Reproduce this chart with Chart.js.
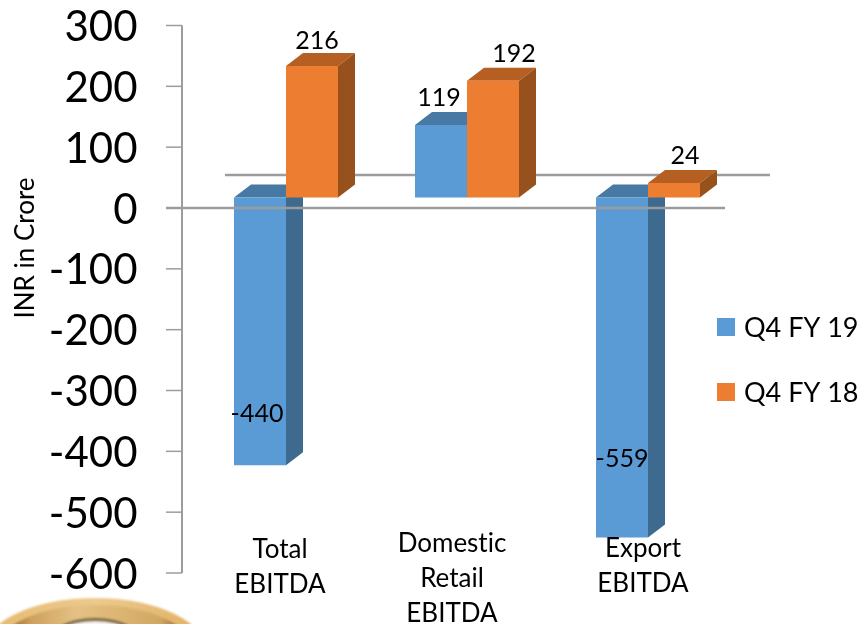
<!DOCTYPE html>
<html>
<head>
  <meta charset="utf-8">
  <title>EBITDA</title>
  <style>
    body { margin: 0; background: #fff; }
    canvas { display: block; }
  </style>
  <script src="https://cdn.jsdelivr.net/npm/chart.js"></script>
</head>
<body>
  <canvas id="chartCanvas" width="861" height="624"></canvas>

  <script>
    // Chart data
    var categories = [['Total', 'EBITDA'], ['Domestic', 'Retail', 'EBITDA'], ['Export', 'EBITDA']];
    var q4fy19 = [-440, 119, -559];
    var q4fy18 = [216, 192, 24];
    var yTitle = 'INR in Crore';

    var FONT = 'Lato, Carlito, sans-serif';
    var GREY = '#9c9c9c';

    // Depth of the extruded bars, in pixels
    var DEPTH_X = 17, DEPTH_Y = 13;

    // Side and top shades per dataset
    var shades = [
      { top: '#4878a4', side: '#3e6a8f' },
      { top: '#b55f23', side: '#97511d' }
    ];

    // Value label nudges relative to the bar centre / bar end
    var labelShift = [
      [{ x: -3, y: -51 }, { x: -2, y: 27 }, { x: 0, y: -79 }],
      [{ x: 5, y: 25 }, { x: 21, y: 27 }, { x: 11, y: 27 }]
    ];
    var categoryShift = [-6, -15, -5];
    var categoryTop = [550, 544, 549];

    function poly(ctx, pts, color) {
      ctx.fillStyle = color;
      ctx.beginPath();
      ctx.moveTo(pts[0][0], pts[0][1]);
      for (var i = 1; i < pts.length; i++) ctx.lineTo(pts[i][0], pts[i][1]);
      ctx.closePath();
      ctx.fill();
    }

    function hline(ctx, x1, x2, y, w) {
      ctx.strokeStyle = GREY;
      ctx.lineWidth = w;
      ctx.beginPath();
      ctx.moveTo(x1, y);
      ctx.lineTo(x2, y);
      ctx.stroke();
    }

    // Gold ring peeking in at the bottom left corner
    function drawRing(ctx) {
      ctx.save();
      ctx.beginPath();
      ctx.rect(0, 590, 210, 34);
      ctx.clip();
      ctx.filter = 'blur(1px)';

      var rim = ctx.createLinearGradient(0, 0, 190, 0);
      rim.addColorStop(0, '#e6bc72');
      rim.addColorStop(0.5, '#ecca8e');
      rim.addColorStop(1, '#e2b468');
      ctx.fillStyle = rim;
      ctx.beginPath();
      ctx.ellipse(95, 652, 112, 54, 0, 0, Math.PI * 2);
      ctx.fill();

      var band = ctx.createLinearGradient(0, 0, 190, 0);
      band.addColorStop(0.06, '#9c6f35');
      band.addColorStop(0.16, '#cda05c');
      band.addColorStop(0.4, '#e4c184');
      band.addColorStop(0.65, '#dcb471');
      band.addColorStop(0.85, '#cfa563');
      band.addColorStop(0.96, '#8d6632');
      ctx.fillStyle = band;
      ctx.beginPath();
      ctx.ellipse(95, 650, 98, 45, 0, 0, Math.PI * 2);
      ctx.fill();

      ctx.fillStyle = '#7d6a4a';
      ctx.beginPath();
      ctx.ellipse(95, 645, 50, 27, 0, 0, Math.PI * 2);
      ctx.fill();
      ctx.fillStyle = '#f5f3ee';
      ctx.beginPath();
      ctx.ellipse(95, 648, 50, 27, 0, 0, Math.PI * 2);
      ctx.fill();
      ctx.restore();
    }

    // Axis lines, the back wall line and the extruded faces of the bars
    var extrudePlugin = {
      id: 'extrude',
      beforeDatasetsDraw: function(chart) {
        var ctx = chart.ctx;
        var y = chart.scales.y;
        var base = chart.scales.yBars.getPixelForValue(0);
        ctx.save();
        drawRing(ctx);
        // back wall line
        hline(ctx, 225, 770, base - DEPTH_Y - 9.5, 2.5);
        // y axis with tick marks
        var axisX = 182;
        ctx.strokeStyle = GREY;
        ctx.lineWidth = 2;
        ctx.beginPath();
        ctx.moveTo(axisX, y.top);
        ctx.lineTo(axisX, y.bottom);
        ctx.stroke();
        y.ticks.forEach(function(t, i) {
          if (t.value !== 0) hline(ctx, axisX - 16, axisX, y.getPixelForTick(i), 1.5);
        });
        // faces go down first so every front face lands on top of them
        shades.forEach(function(shade, d) {
          chart.getDatasetMeta(d).data.forEach(function(bar) {
            var p = bar.getProps(['x', 'y', 'base', 'width'], true);
            var l = p.x - p.width / 2, r = p.x + p.width / 2;
            var t = Math.min(p.y, p.base), b = Math.max(p.y, p.base);
            poly(ctx, [[l, t], [l + DEPTH_X, t - DEPTH_Y], [r + DEPTH_X, t - DEPTH_Y], [r, t]], shade.top);
            poly(ctx, [[r, t], [r + DEPTH_X, t - DEPTH_Y], [r + DEPTH_X, b - DEPTH_Y], [r, b]], shade.side);
          });
        });
        ctx.restore();
      },
      afterDatasetsDraw: function(chart) {
        var ctx = chart.ctx;
        var y = chart.scales.y;
        var x = chart.scales.x;
        ctx.save();
        // zero line sits in front of the bars
        hline(ctx, 166, 725, y.getPixelForValue(0), 2.5);

        ctx.fillStyle = '#000';
        ctx.textAlign = 'center';
        ctx.textBaseline = 'middle';
        ctx.textRendering = 'optimizeSpeed';

        // value labels
        ctx.font = '25px ' + FONT;
        chart.data.datasets.forEach(function(ds, d) {
          chart.getDatasetMeta(d).data.forEach(function(bar, i) {
            var s = labelShift[d][i];
            ctx.fillText(String(ds.data[i]), bar.x + s.x, ds.data[i] < 0 ? bar.y + s.y : bar.y - s.y);
          });
        });

        // category labels
        ctx.font = '26px ' + FONT;
        categories.forEach(function(lines, i) {
          lines.forEach(function(line, n) {
            ctx.fillText(line, x.getPixelForTick(i) + categoryShift[i], categoryTop[i] + n * 35);
          });
        });

        // legend
        ctx.font = '27px ' + FONT;
        ctx.textAlign = 'left';
        chart.data.datasets.forEach(function(ds, d) {
          var top = 318 + d * 65;
          ctx.fillStyle = ds.backgroundColor;
          ctx.fillRect(717, top, 18, 18);
          ctx.fillStyle = '#000';
          ctx.fillText(ds.label, 744, top + 10);
        });

        // y axis title
        ctx.translate(26, 248);
        ctx.rotate(-Math.PI / 2);
        ctx.textAlign = 'center';
        ctx.font = '26px ' + FONT;
        ctx.fillText(yTitle, 0, 0);
        ctx.restore();
      }
    };

    new Chart(document.getElementById('chartCanvas').getContext('2d'), {
      type: 'bar',
      data: {
        labels: categories,
        datasets: [
          { label: 'Q4 FY 19', data: q4fy19, backgroundColor: '#5b9bd5', yAxisID: 'yBars',
            categoryPercentage: 104 / 181, barPercentage: 1 },
          { label: 'Q4 FY 18', data: q4fy18, backgroundColor: '#ed7d31', yAxisID: 'yBars',
            categoryPercentage: 104 / 181, barPercentage: 1 }
        ]
      },
      options: {
        responsive: false,
        animation: false,
        events: [],
        layout: { padding: { top: 25.5, bottom: 51, right: 122.5, left: 0 } },
        plugins: { legend: { display: false }, tooltip: { enabled: false } },
        scales: {
          x: { display: false },
          y: {
            position: 'left',
            min: -600,
            max: 300,
            afterFit: function(scale) {
              scale.width = 195.5;
              scale.paddingTop = 0;
              scale.paddingBottom = 0;
            },
            border: { display: false },
            grid: { display: false, drawTicks: false },
            ticks: {
              stepSize: 100,
              padding: 58,
              labelOffset: 2,
              color: '#000',
              font: { family: FONT, size: 42 }
            }
          },
          // front plane of the bars, shifted down from the printed axis
          yBars: { display: false, min: -617.3, max: 282.7 }
        }
      },
      plugins: [extrudePlugin]
    });
  </script>
</body>
</html>
